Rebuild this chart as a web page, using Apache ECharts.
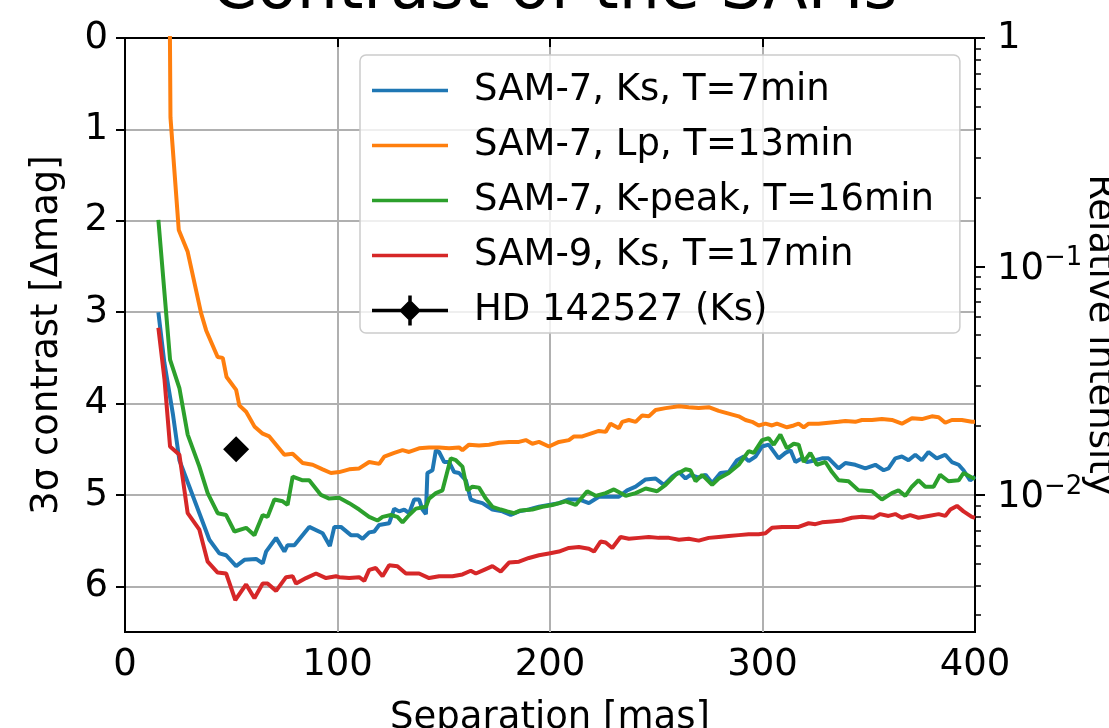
<!DOCTYPE html>
<html>
<head>
<meta charset="utf-8">
<title>Contrast of the SAMs</title>
<script src="https://cdn.jsdelivr.net/npm/echarts@6/dist/echarts.min.js"></script>
<style>
    html, body { margin: 0; padding: 0; background: #fff; }
    #chart { width: 1109px; height: 728px; }
</style>
</head>
<body>
<div id="chart"></div>
<script>
// separation [mas], contrast [mag]
var sam7Ks = [[15.7,3.00],[18.5,3.55],[22.5,4.11],[25.6,4.62],[30.3,4.91],[35.0,5.20],[39.7,5.49],[44.4,5.64],[47.6,5.66],[52.3,5.78],[56.2,5.71],[61.7,5.70],[64.8,5.75],[66.4,5.62],[71.1,5.47],[75.0,5.62],[76.5,5.55],[79.7,5.55],[86.7,5.35],[93.0,5.42],[96.4,5.56],[98.5,5.35],[101.6,5.35],[106.3,5.44],[109.4,5.44],[111.8,5.48],[114.9,5.41],[117.3,5.40],[119.6,5.33],[124.3,5.31],[126.7,5.15],[129.0,5.18],[131.4,5.16],[133.7,5.20],[136.1,5.05],[138.4,5.05],[140.0,5.16],[141.6,5.21],[142.3,4.76],[144.7,4.73],[146.3,4.51],[147.8,4.53],[150.2,4.64],[152.5,4.64],[154.9,4.75],[157.2,4.76],[160.4,4.84],[162.7,5.05],[165.1,5.07],[168.2,5.09],[172.9,5.16],[177.6,5.18],[181.5,5.22],[185.4,5.18],[190.1,5.16],[194.8,5.13],[199.5,5.11],[204.2,5.09],[208.9,5.05],[213.6,5.05],[218.3,5.09],[223.0,5.02],[227.7,5.02],[232.4,5.02],[236.3,4.95],[240.3,4.91],[245.0,4.83],[249.7,4.82],[253.6,4.89],[257.5,4.80],[260.7,4.75],[263.8,4.82],[266.1,4.78],[270.0,4.81],[273.2,4.78],[276.3,4.87],[280.2,4.76],[284.1,4.75],[288.0,4.62],[291.2,4.58],[293.5,4.63],[296.7,4.58],[299.8,4.47],[302.9,4.45],[307.6,4.60],[310.8,4.54],[313.2,4.51],[315.5,4.64],[318.6,4.60],[321.0,4.64],[324.9,4.62],[328.0,4.60],[331.1,4.60],[335.8,4.71],[339.0,4.65],[343.7,4.67],[348.4,4.71],[353.1,4.67],[357.0,4.73],[359.3,4.71],[362.5,4.60],[365.6,4.58],[368.7,4.62],[371.9,4.56],[375.0,4.62],[378.1,4.53],[382.0,4.60],[386.0,4.56],[389.1,4.64],[392.3,4.67],[394.6,4.73],[397.7,4.84],[400,4.80]];

var sam7Lp = [[21.0,-0.5],[21.4,0.87],[25.3,2.10],[29.5,2.34],[35.8,3.01],[38.2,3.20],[43.6,3.49],[46.0,3.50],[47.8,3.71],[52.3,3.85],[53.8,4.02],[57.0,4.09],[60.9,4.25],[64.8,4.33],[67.9,4.36],[71.1,4.45],[75.0,4.56],[78.9,4.55],[83.6,4.65],[88.3,4.67],[93.0,4.72],[96.9,4.76],[100.8,4.75],[105.5,4.72],[110.2,4.71],[114.9,4.64],[119.6,4.66],[122.0,4.58],[126.7,4.54],[130.6,4.51],[133.7,4.53],[138.4,4.49],[143.1,4.48],[147.8,4.48],[152.5,4.49],[157.2,4.48],[158.8,4.51],[161.9,4.45],[166.6,4.46],[171.3,4.45],[176.0,4.43],[180.7,4.42],[185.4,4.42],[188.6,4.40],[191.7,4.44],[194.8,4.42],[199.5,4.47],[204.2,4.42],[208.9,4.40],[211.3,4.36],[215.2,4.36],[219.1,4.33],[223.0,4.30],[226.2,4.31],[228.5,4.22],[232.4,4.27],[234.0,4.20],[237.1,4.18],[240.3,4.20],[243.4,4.13],[246.5,4.14],[249.7,4.07],[254.4,4.05],[260.7,4.03],[265.3,4.04],[270.0,4.05],[274.7,4.04],[279.4,4.08],[284.1,4.11],[288.8,4.14],[292.0,4.18],[295.1,4.20],[298.2,4.24],[301.4,4.22],[304.5,4.24],[306.8,4.22],[311.5,4.26],[314.7,4.24],[317.0,4.22],[319.4,4.26],[321.7,4.22],[326.4,4.22],[331.1,4.21],[335.8,4.20],[339.0,4.19],[343.7,4.20],[346.8,4.18],[351.5,4.18],[356.2,4.17],[360.9,4.18],[365.6,4.22],[370.3,4.16],[375.0,4.17],[379.7,4.14],[382.9,4.15],[386.0,4.21],[389.1,4.18],[393.8,4.18],[398.5,4.20],[400,4.20]];

var sam7Kpeak = [[15.7,1.99],[21.2,3.52],[25.6,3.83],[29.5,4.34],[35.0,4.69],[38.9,4.98],[43.6,5.20],[47.6,5.22],[51.5,5.40],[57.0,5.36],[60.9,5.44],[64.8,5.22],[67.1,5.24],[70.3,5.05],[74.2,5.07],[76.5,5.11],[78.9,4.80],[83.6,4.84],[86.7,4.84],[92.2,5.00],[96.1,5.04],[100.8,5.03],[105.5,5.09],[110.2,5.16],[114.9,5.24],[118.8,5.28],[121.2,5.24],[125.1,5.22],[128.2,5.24],[130.6,5.30],[133.7,5.22],[136.9,5.15],[141.6,5.13],[143.1,5.04],[146.3,4.98],[149.4,4.95],[153.3,4.60],[155.7,4.62],[158.8,4.69],[161.1,4.95],[163.5,4.91],[166.6,4.92],[169.8,5.04],[172.9,5.13],[176.8,5.16],[179.9,5.18],[183.1,5.20],[186.2,5.17],[191.7,5.16],[196.4,5.13],[201.1,5.11],[207.4,5.07],[212.1,5.11],[217.5,4.96],[221.5,5.01],[226.2,4.98],[230.1,4.94],[235.6,5.01],[240.3,4.98],[245.0,4.93],[250.4,4.96],[254.4,4.89],[259.1,4.78],[263.8,4.72],[266.1,4.73],[268.5,4.85],[271.6,4.78],[276.3,4.89],[279.4,4.82],[284.1,4.76],[288.8,4.67],[293.5,4.52],[295.9,4.54],[299.8,4.40],[302.9,4.38],[305.3,4.45],[308.4,4.34],[311.5,4.49],[314.7,4.44],[317.0,4.45],[319.4,4.64],[322.5,4.54],[325.6,4.67],[329.6,4.64],[332.7,4.75],[335.8,4.84],[340.5,4.85],[345.2,4.95],[351.5,4.96],[356.2,5.05],[360.9,4.98],[364.0,4.95],[367.2,5.01],[370.3,4.91],[373.4,4.84],[376.6,4.91],[380.5,4.91],[383.6,4.78],[387.5,4.85],[392.3,4.84],[394.6,4.76],[398.5,4.81],[400,4.82]];

var sam9Ks = [[15.7,3.17],[18.6,3.74],[21.2,4.47],[25.6,4.56],[29.5,5.20],[35.0,5.38],[38.9,5.73],[43.6,5.85],[47.6,5.86],[51.9,6.15],[57.0,5.98],[60.9,6.13],[64.8,5.97],[67.1,5.97],[71.1,6.05],[75.8,5.90],[78.9,5.89],[80.5,5.97],[85.2,5.91],[89.9,5.86],[94.6,5.91],[99.3,5.89],[100.8,5.90],[105.5,5.91],[110.2,5.90],[112.6,5.94],[114.9,5.82],[118.0,5.80],[121.2,5.89],[124.3,5.77],[128.2,5.78],[132.2,5.86],[138.4,5.86],[143.1,5.91],[147.8,5.89],[154.1,5.89],[158.8,5.87],[162.7,5.83],[165.1,5.86],[169.0,5.82],[172.9,5.78],[176.8,5.84],[180.7,5.74],[185.4,5.73],[190.1,5.69],[194.8,5.66],[199.5,5.64],[204.2,5.62],[208.9,5.58],[213.6,5.57],[218.3,5.59],[220.7,5.62],[223.8,5.51],[226.2,5.52],[229.3,5.58],[233.2,5.46],[237.1,5.48],[241.8,5.47],[246.5,5.46],[251.2,5.47],[256.0,5.47],[260.7,5.49],[265.3,5.48],[270.0,5.50],[274.7,5.47],[279.4,5.46],[284.1,5.45],[288.8,5.44],[293.5,5.43],[298.2,5.43],[301.4,5.42],[304.5,5.36],[309.2,5.35],[313.9,5.35],[317.0,5.35],[321.7,5.31],[324.9,5.32],[328.0,5.30],[332.7,5.29],[337.4,5.28],[342.1,5.25],[346.8,5.24],[352.3,5.25],[355.4,5.21],[359.3,5.23],[362.5,5.21],[365.6,5.25],[369.5,5.22],[373.4,5.25],[378.1,5.23],[382.9,5.21],[386.0,5.23],[388.4,5.16],[391.5,5.12],[394.6,5.18],[398.5,5.24],[400,5.25]];

var hd142527 = [[52.3, 4.50]];

var seriesNames = ['SAM-7, Ks, T=7min', 'SAM-7, Lp, T=13min', 'SAM-7, K-peak, T=16min', 'SAM-9, Ks, T=17min', 'HD 142527 (Ks)'];
var colors = ['#1f77b4', '#ff7f0e', '#2ca02c', '#d62728'];

var xTicks = [0, 100, 200, 300, 400];
var yTicks = [0, 1, 2, 3, 4, 5, 6];
// right axis: relative intensity (log), major ticks and their labels
var intensityTicks = [1, 0.1, 0.01];
var intensityLabels = ['1', '{b|10}{s|\u22121}', '{b|10}{s|\u22122}'];
var minorMultipliers = [2, 3, 4, 5, 6, 7, 8, 9];

// intensity -> magnitude, so the right axis shares the left scale
function toMag(f) { return -2.5 * Math.log10(f); }

var majorMag = intensityTicks.map(toMag);
var minorMag = [];
intensityTicks.forEach(function (d) {
    minorMultipliers.forEach(function (m) {
        var v = toMag(d * m / 10);
        if (v > 0 && v < 6.5) minorMag.push(v);
    });
});

var font = 'DejaVu Sans';
var fs = 37;
var lineIcon = 'path://M0 13.25H76V16.75H0Z';
var chart = echarts.init(document.getElementById('chart'));

var lineSeries = [sam7Ks, sam7Lp, sam7Kpeak, sam9Ks].map(function (d, i) {
    return {
        name: seriesNames[i],
        type: 'line',
        data: d,
        symbol: 'none',
        showSymbol: false,
        clip: true,
        lineStyle: { color: colors[i], width: 4 },
        itemStyle: { color: colors[i] },
        z: 3
    };
});

var legendData = seriesNames.slice(0, 4).map(function (n) {
    return { name: n, icon: lineIcon };
});
// line + diamond + vertical error bar, like the errorbar handle
legendData.push({
    name: seriesNames[4],
    icon: 'path://M0 13.25H76V16.75H0Z M38 4L49 15L38 26L27 15Z M36.25 0H39.75V30H36.25Z'
});

var option = {
    animation: false,
    backgroundColor: '#fff',
    title: {
        text: 'Contrast of the SAMs',
        left: 'center',
        top: -46,
        textStyle: { fontFamily: font, fontSize: 65, fontWeight: 'normal', color: '#000' }
    },
    grid: {
        left: 125, right: 134, top: 38, bottom: 96,
        show: true, borderColor: '#000', borderWidth: 2,
        outerBoundsMode: 'none'
    },
    legend: {
        orient: 'vertical',
        left: 360,
        top: 55,
        padding: [17, 26, 4, 12],
        itemGap: 18,
        itemWidth: 76,
        itemHeight: 30,
        backgroundColor: 'rgba(255,255,255,0.8)',
        borderColor: '#cccccc',
        borderWidth: 1.5,
        borderRadius: 6,
        textStyle: { fontFamily: font, fontSize: fs, lineHeight: 37, color: '#000', padding: [0, 0, 0, 21] },
        data: legendData
    },
    xAxis: {
        type: 'value',
        min: 0, max: 400, interval: 100,
        name: 'Separation [mas]',
        nameLocation: 'middle',
        nameGap: 68,
        nameTextStyle: { fontFamily: font, fontSize: fs, color: '#000' },
        axisLine: { lineStyle: { color: '#000', width: 2 } },
        axisTick: { length: 9, lineStyle: { color: '#000', width: 2 }, customValues: xTicks },
        axisLabel: { fontFamily: font, fontSize: fs, color: '#000', margin: 15, customValues: xTicks },
        splitLine: { lineStyle: { color: '#b0b0b0', width: 2 } }
    },
    yAxis: [{
        type: 'value',
        min: 0, max: 6.5, interval: 1,
        inverse: true,
        name: '3\u03c3 contrast [\u0394mag]',
        nameLocation: 'middle',
        nameGap: 59,
        nameMoveOverlap: false,
        nameTextStyle: { fontFamily: font, fontSize: fs, color: '#000' },
        axisLine: { show: true, lineStyle: { color: '#000', width: 2 } },
        axisTick: { show: true, length: 9, lineStyle: { color: '#000', width: 2 }, customValues: yTicks },
        axisLabel: { fontFamily: font, fontSize: fs, color: '#000', margin: 17, customValues: yTicks },
        splitLine: { lineStyle: { color: '#b0b0b0', width: 2 } }
    }, {
        type: 'value',
        min: 0, max: 6.5,
        inverse: true,
        position: 'right',
        name: 'Relative intensity',
        nameLocation: 'middle',
        nameRotate: -90,
        nameGap: 106,
        nameMoveOverlap: false,
        nameTextStyle: { fontFamily: font, fontSize: fs, color: '#000' },
        axisLine: { show: true, lineStyle: { color: '#000', width: 2 } },
        axisTick: { show: true, length: 10, lineStyle: { color: '#000', width: 2 }, customValues: majorMag },
        axisLabel: {
            color: '#000', margin: 22,
            customValues: majorMag,
            formatter: function (v) {
                for (var i = 0; i < majorMag.length; i++) {
                    if (Math.abs(v - majorMag[i]) < 1e-6) return intensityLabels[i];
                }
                return '';
            },
            fontFamily: font, fontSize: fs,
            rich: {
                b: { fontFamily: font, fontSize: fs, color: '#000', verticalAlign: 'bottom', lineHeight: 42 },
                s: { fontFamily: font, fontSize: 26, color: '#000', verticalAlign: 'top', lineHeight: 22 }
            }
        },
        splitLine: { show: false }
    }, {
        type: 'value',
        min: 0, max: 6.5,
        inverse: true,
        position: 'right',
        axisLine: { show: false },
        axisTick: { show: true, length: 6, lineStyle: { color: '#000', width: 1.5 }, customValues: minorMag },
        axisLabel: { show: false },
        splitLine: { show: false }
    }],
    series: lineSeries.concat([{
        name: seriesNames[4],
        type: 'scatter',
        data: hd142527,
        symbol: 'diamond',
        symbolSize: 26,
        itemStyle: { color: '#000', opacity: 1 },
        z: 4
    }])
};

chart.setOption(option);
</script>
</body>
</html>
